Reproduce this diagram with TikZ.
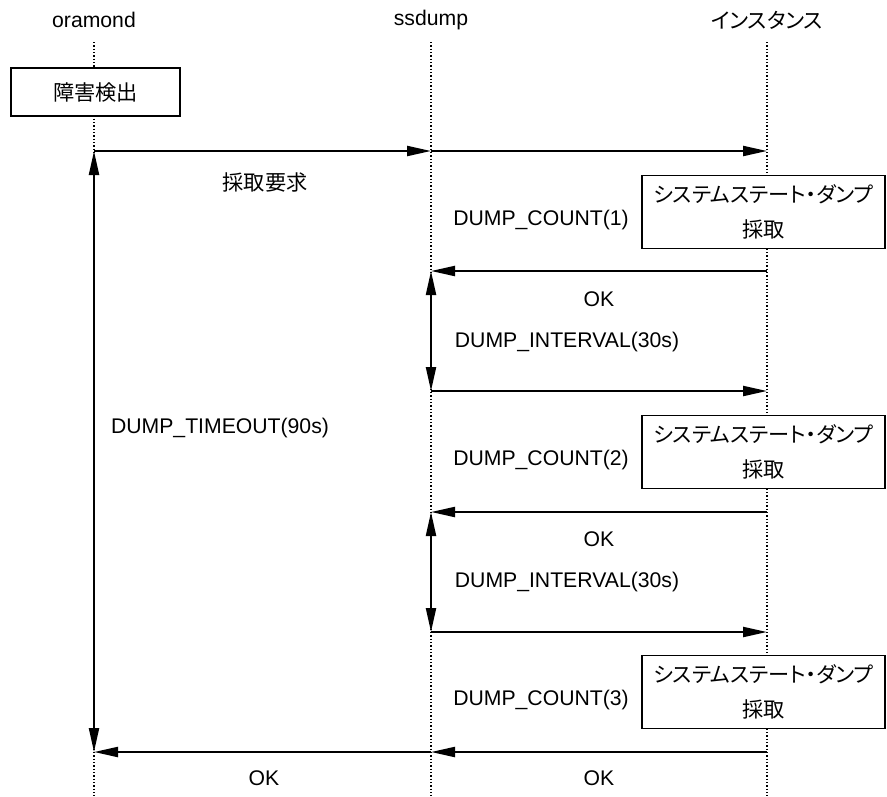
\documentclass[tikz,border=0pt]{standalone}
\usepackage{fontspec}
\setmainfont{Liberation Sans}
\newfontfamily\jp{Noto Sans CJK JP}[RawFeature=+palt]
\usetikzlibrary{arrows.meta,positioning,calc}
\tikzset{
  lifeline/.style={line width=1pt,dash pattern=on 1pt off 1.5pt},
  msg/.style={line width=1.6pt,-{Triangle[length=18pt,width=7.5pt]}},
  span/.style={line width=1.6pt,{Triangle[length=18pt,width=7.5pt]}-{Triangle[length=18pt,width=7.5pt]}},
  actbox/.style={draw,line width=1pt,fill=white,inner sep=0pt,align=center},
  dumpbox/.style={actbox,minimum width=182.25pt,minimum height=54.75pt,
    font=\fontsize{15.9}{26}\selectfont\jp},
  lbl/.style={inner sep=0pt}
}

\begin{document}
\begin{tikzpicture}[x=0.75pt,y=-0.75pt,font=\fontsize{15.9}{24}\selectfont]
\useasboundingbox (0,0) rectangle (887,796);

% lifelines
\node[lbl] (orm) at (94,20) {oramond};
\node[lbl] (ssd) at (431,20) {ssdump};
\node[lbl] (ins) at (767,20) {\jp インスタンス};

\coordinate (ormtop) at (94,42);   \coordinate (ormbot) at (94,796);
\coordinate (ssdtop) at (431,42);  \coordinate (ssdbot) at (431,796);
\coordinate (instop) at (767,42);  \coordinate (insbot) at (767,796);

\draw[lifeline] (ormtop) -- (ormbot);
\draw[lifeline] (ssdtop) -- (ssdbot);
\draw[lifeline] (instop) -- (insbot);

% message points
\coordinate (o1) at (94,151);  \coordinate (s1) at (431,151); \coordinate (i1) at (767,151);
\coordinate (i2) at (767,271); \coordinate (s2) at (431,271);
\coordinate (s3) at (431,391); \coordinate (i3) at (767,391);
\coordinate (i4) at (767,512); \coordinate (s4) at (431,512);
\coordinate (s5) at (431,632); \coordinate (i5) at (767,632);
\coordinate (i6) at (767,752); \coordinate (s6) at (431,752); \coordinate (o6) at (94,752);

% boxes
\node[actbox,minimum width=126.75pt,minimum height=36pt] (detect) at (95.5,92) {\jp 障害検出};
\node[dumpbox] (dump1) at (763.5,212) {システムステート・ダンプ\\採取};
\node[dumpbox] (dump2) at (763.5,452) {システムステート・ダンプ\\採取};
\node[dumpbox] (dump3) at (763.5,692) {システムステート・ダンプ\\採取};

% messages
\draw[msg] (o1) -- (s1);
\draw[msg] (s1) -- (i1);
\draw[msg] (i2) -- (s2);
\draw[msg] (s3) -- (i3);
\draw[msg] (i4) -- (s4);
\draw[msg] (s5) -- (i5);
\draw[msg] (i6) -- (s6);
\draw[msg] (s6) -- (o6);

\draw[span] (o1) -- (o6);
\draw[span] (s2) -- (s3);
\draw[span] (s4) -- (s5);

% labels
\node[lbl] (req) at (265,182) {\jp 採取要求};
\node[lbl] (cnt1) at (541,220) {DUMP\_COUNT(1)};
\node[lbl] (ok1) at (599,299) {OK};
\node[lbl] (int1) at (567,342) {DUMP\_INTERVAL(30s)};
\node[lbl] (tmo) at (220,428) {DUMP\_TIMEOUT(90s)};
\node[lbl] (cnt2) at (541,460) {DUMP\_COUNT(2)};
\node[lbl] (ok2) at (599,539) {OK};
\node[lbl] (int2) at (567,582) {DUMP\_INTERVAL(30s)};
\node[lbl] (cnt3) at (541,700) {DUMP\_COUNT(3)};
\node[lbl] (ok3) at (264,778) {OK};
\node[lbl] (ok4) at (599,778) {OK};
\end{tikzpicture}
\end{document}
